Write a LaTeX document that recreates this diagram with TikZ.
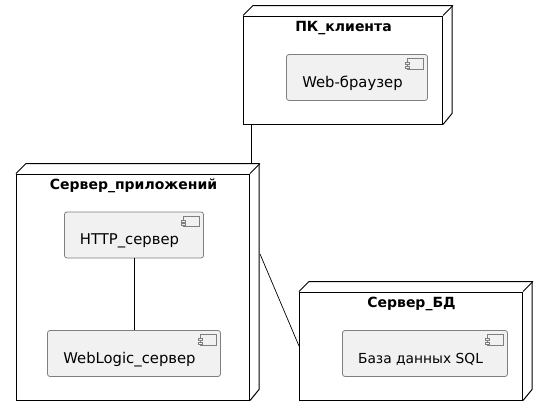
\documentclass[tikz,border=0pt]{standalone}
\usepackage{fontspec}
\setmainfont{DejaVu Sans}
\definecolor{compfill}{HTML}{F1F1F1}
\definecolor{compline}{HTML}{7F7F7F}
\newcommand{\cmplabel}[1]{\smash{\raisebox{-9.5pt}{#1}}\kern9pt\relax}
\newcommand{\deploynode}[6]{% name, cx, cy, w, h, title
  \node[nodefront, minimum width=#4pt, minimum height=#5pt] (#1) at (#2,#3) {};
  \draw[nodeline] (#1.north west) -- ++(10,-10) -- ++(#4,0) -- ++(0,#5) -- (#1.south east);
  \draw[nodeline] (#1.north east) -- ++(10,-10);
  \node[nodetitle, below=4.5pt of #1.north, xshift=0.5pt] (#1title) {#6};
}
\newcommand{\compicon}[1]{%
  \draw[iconline] ([shift={(-20.5,4.5)}]#1.north east) rectangle ++(15.5,10.5);
  \draw[iconline] ([shift={(-22.5,8.5)}]#1.north east) rectangle ++(4,2.2);
  \draw[iconline] ([shift={(-22.5,11.8)}]#1.north east) rectangle ++(4,2.2);
}
\usetikzlibrary{positioning}
\tikzset{
  nodefront/.style={draw=black, line width=1pt, inner sep=0pt, fill=white},
  nodeline/.style={draw=black, line width=1pt},
  nodetitle/.style={font=\fontsize{14}{16}\selectfont\bfseries, inner sep=0pt, anchor=north, text height=11pt, text depth=3pt},
  comp/.style={draw=compline, fill=compfill, line width=0.8pt, rounded corners=2.5pt, inner sep=0pt,
    font=\fontsize{14.8}{16}\selectfont},
  iconline/.style={draw=compline, line width=0.8pt, fill=compfill},
  link/.style={draw=black, line width=1pt},
  thinlink/.style={draw=black, line width=0.7pt},
}
\begin{document}
\begin{tikzpicture}[x=1pt,y=-1pt]
\useasboundingbox (0,0) rectangle (548,416);
\deploynode{pk}{343}{70}{199}{108}{ПК\_клиента}
\deploynode{app}{133}{287}{233}{226}{Сервер\_приложений}
\deploynode{db}{411}{346}{223}{108}{Сервер\_БД}

\node[comp, minimum width=141pt, minimum height=46pt] (web) at (357,77.5) {\cmplabel{Web-браузер}};
\node[comp, minimum width=139pt, minimum height=46pt] (http) at (134,235) {\cmplabel{HTTP\_сервер}};
\node[comp, minimum width=173pt, minimum height=46pt] (wl) at (134,353.5) {\cmplabel{WebLogic\_сервер}};
\node[comp, minimum width=165pt, minimum height=46pt, font=\fontsize{13.8}{16}\selectfont] (sql) at (425,353.5) {\cmplabel{База данных SQL}};
\compicon{web}\compicon{http}\compicon{wl}\compicon{sql}

\coordinate (pkfoot) at ([xshift=8pt]pk.south west);
\coordinate (apptop) at ([yshift=10pt]pkfoot |- app.north);
\coordinate (appside) at ([xshift=10pt,yshift=33pt]app.east);
\coordinate (dbside) at (db.west);
\draw[link] (pkfoot) -- (apptop);
\draw[link] (http) -- (wl);
\draw[thinlink] (appside) -- (dbside);
\end{tikzpicture}
\end{document}
